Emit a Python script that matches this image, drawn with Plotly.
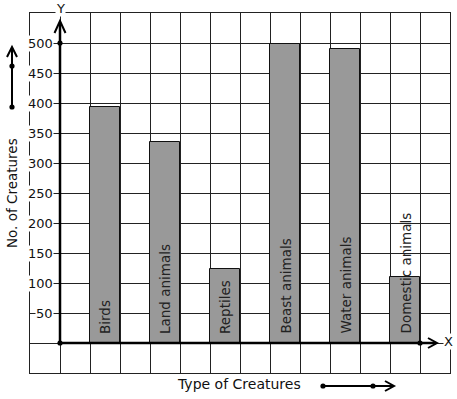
import plotly.graph_objects as go

categories = ["Birds", "Land animals", "Reptiles", "Beast animals", "Water animals", "Domestic animals"]
values = [393, 335, 123, 498, 490, 110]
positions = [1.5, 3.5, 5.5, 7.5, 9.5, 11.5]
y_ticks = [50, 100, 150, 200, 250, 300, 350, 400, 450, 500]
y_tick_labels = ["50", "100", "150", "200", "250", "300", "350", "400", "450", "500"]

FONT = "DejaVu Sans"
W, H = 457, 399
ML, MR, MT, MB = 30, 7, 13, 26
PW, PH = W - ML - MR, H - MT - MB


def px(x):
    return (x - ML) / PW


def py(y):
    return (H - MB - y) / PH


fig = go.Figure()
fig.add_trace(go.Bar(
    x=positions, y=values, width=1,
    marker=dict(color="#999999", line=dict(color="#111111", width=1)),
    hoverinfo="skip", showlegend=False,
))

annotations = []
for xpos, name in zip(positions, categories):
    annotations.append(dict(
        x=xpos, y=0, xref="x", yref="y", text=name, showarrow=False,
        textangle=-90, xanchor="center", yanchor="bottom", yshift=7,
        font=dict(family=FONT, size=13.5, color="#222222"),
    ))

for v, lab in zip(y_ticks, y_tick_labels):
    annotations.append(dict(
        x=0, y=v, xref="x", yref="y", text=lab, showarrow=False,
        xanchor="right", yanchor="middle", xshift=-6,
        bgcolor="white", borderpad=0,
        font=dict(family=FONT, size=13, color="#111111"),
    ))

annotations += [
    dict(x=px(60), y=py(8), xref="paper", yref="paper", text="Y", showarrow=False,
         xanchor="center", yanchor="middle", bgcolor="white", borderpad=0,
         font=dict(family=FONT, size=13, color="#111111")),
    dict(x=px(448), y=py(341), xref="paper", yref="paper", text="X", showarrow=False,
         xanchor="center", yanchor="middle", bgcolor="white", borderpad=0,
         font=dict(family=FONT, size=13, color="#111111")),
    dict(x=px(239), y=py(384), xref="paper", yref="paper", text="Type of Creatures", showarrow=False,
         xanchor="center", yanchor="middle",
         font=dict(family=FONT, size=14, color="#111111")),
    dict(x=px(12), y=py(193), xref="paper", yref="paper", text="No. of Creatures", showarrow=False,
         textangle=-90, xanchor="center", yanchor="middle",
         font=dict(family=FONT, size=13.5, color="#111111")),
]

shapes = []


def line(x0, y0, x1, y1, w=2.5):
    shapes.append(dict(type="line", xref="paper", yref="paper",
                       x0=px(x0), y0=py(y0), x1=px(x1), y1=py(y1),
                       line=dict(color="black", width=w)))


def chevron(tx, ty, ax1, ay1, ax2, ay2, w=2):
    shapes.append(dict(type="path", xref="paper", yref="paper",
                       path=f"M {px(ax1)},{py(ay1)} L {px(tx)},{py(ty)} L {px(ax2)},{py(ay2)}",
                       line=dict(color="black", width=w)))


def dot(cx, cy, r=2.6):
    shapes.append(dict(type="circle", xref="paper", yref="paper",
                       x0=px(cx - r), x1=px(cx + r), y0=py(cy + r), y1=py(cy - r),
                       fillcolor="black", line=dict(color="black", width=0)))


# main axes
line(60, 343, 436, 343)
chevron(437, 343, 428, 338, 428, 348)
line(60, 343, 60, 23)
chevron(60, 21, 54.5, 33, 65.5, 33)
dot(60, 343)
dot(60, 43)
dot(420, 343)

# y title arrow
line(12, 107, 12, 49, 2)
chevron(12, 47, 7, 57, 17, 57)
dot(12, 107)
dot(12, 66)

# x title arrow
line(323, 386, 393, 386, 2)
chevron(394, 386, 385, 381, 385, 391)
dot(323, 386)
dot(373, 386)

fig.update_layout(
    width=W, height=H,
    margin=dict(l=ML, r=MR, t=MT, b=MB, pad=0),
    paper_bgcolor="white", plot_bgcolor="white",
    annotations=annotations, shapes=shapes,
    bargap=0,
    xaxis=dict(range=[-1, 13], tick0=0, dtick=1, showgrid=True, gridcolor="#222222", gridwidth=1,
               showticklabels=False, ticks="", zeroline=False,
               showline=True, mirror=True, linecolor="#222222", linewidth=1, fixedrange=True),
    yaxis=dict(range=[-50, 550], tick0=0, dtick=50, showgrid=True, gridcolor="#222222", gridwidth=1,
               showticklabels=False, ticks="", zeroline=False,
               showline=True, mirror=True, linecolor="#222222", linewidth=1, fixedrange=True),
)

fig.write_html(
    "out.html",
    config={"displayModeBar": False},
    post_script="document.body.style.margin='0';document.body.style.overflow='hidden';",
)
